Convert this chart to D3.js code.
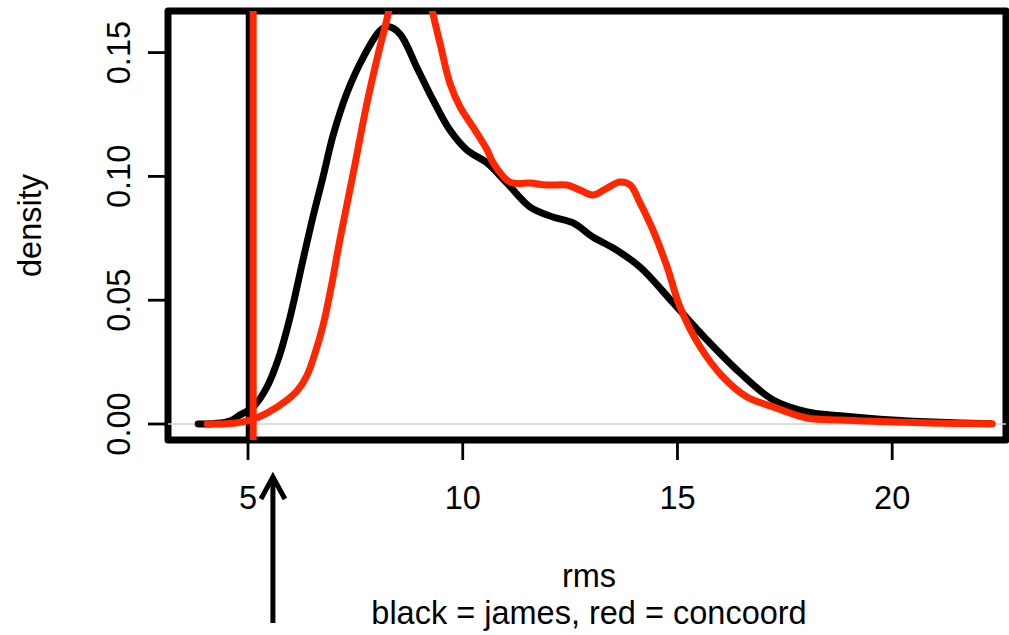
<!DOCTYPE html>
<html><head><meta charset="utf-8">
<script src="https://cdn.jsdelivr.net/npm/d3@7"></script>
<style>body{margin:0;background:#fff}svg{display:block}text{font-family:"Liberation Sans",Arial,Helvetica,sans-serif;fill:#000}</style>
</head><body><div id="chart"></div>
<script>
// James density (rms, density)
const jamesX = [3.84,4.23,4.58,4.81,5.12,5.44,5.72,5.98,6.28,6.51,6.75,6.98,7.31,7.68,8.07,8.26,8.54,8.94,9.31,9.70,10.10,10.57,11.03,11.57,12.10,12.57,13.03,13.50,14.13,14.90,15.69,16.46,17.23,18.02,18.79,19.72,20.65,21.58,22.28];
const jamesY = [0,0.0002,0.0012,0.0036,0.0069,0.0149,0.027,0.0432,0.0662,0.0835,0.1000,0.1165,0.134,0.148,0.1588,0.1605,0.1575,0.1437,0.1308,0.1187,0.1106,0.1054,0.0973,0.0876,0.0836,0.0812,0.0755,0.0711,0.0634,0.0489,0.0339,0.0206,0.0097,0.0049,0.0033,0.0019,0.001,0.0004,0.0001];
// Concoord density
const concoordX = [4.05,4.58,5.05,5.44,5.91,6.15,6.37,6.55,6.75,6.95,7.14,7.45,7.77,8.07,8.19,8.40,8.60,8.80,9.05,9.285,9.47,9.70,9.94,10.24,10.57,10.71,11.10,11.57,11.96,12.43,12.73,13.03,13.36,13.66,13.90,14.13,14.43,14.76,15.06,15.53,16.06,16.62,17.23,18.02,18.79,19.72,20.88,22.33];
const concoordY = [0,0.0002,0.0016,0.0044,0.0097,0.0135,0.0195,0.028,0.040,0.0565,0.0745,0.1013,0.1296,0.1522,0.1603,0.176,0.188,0.193,0.186,0.1672,0.1538,0.1377,0.128,0.1199,0.1106,0.1054,0.0977,0.0973,0.0965,0.0965,0.0945,0.0925,0.0953,0.0977,0.0965,0.0892,0.0783,0.0634,0.0472,0.0311,0.019,0.0109,0.0069,0.0024,0.0016,0.001,0.0004,0.0001];
// Reference lines and arrow
const vLines = [{v:5.0, color:"#000", w:4.5},{v:5.12, color:"#ff2600", w:7}];
const arrowAt = 5.58;
const xTicks = [5,10,15,20];
const yTicks = [0,0.05,0.10,0.15];
const yTickLabels = ["0.00","0.05","0.10","0.15"];
const xLabel = "rms";
const subLabel = "black = james, red = concoord";
const yLabel = "density";

const W=1009,H=635;
const L=168,R=1006,T=11,B=440;
const x=d3.scaleLinear().domain([3.137,22.65]).range([L,R]);
const y=d3.scaleLinear().domain([-0.00646,0.1668]).range([B,T]);
const svg=d3.select("#chart").append("svg").attr("width",W).attr("height",H);
svg.append("defs").append("clipPath").attr("id","clip").append("rect").attr("x",L).attr("y",T).attr("width",R-L).attr("height",B-T);

const fs=32.5;
// y axis ticks
svg.append("g").selectAll("line").data(yTicks).join("line")
  .attr("x1",148).attr("x2",L).attr("y1",d=>y(d)).attr("y2",d=>y(d))
  .attr("stroke","#000").attr("stroke-width",2.8);
svg.append("g").selectAll("text").data(yTicks).join("text")
  .attr("transform",d=>`translate(130,${y(d)}) rotate(-90)`)
  .attr("text-anchor","middle").attr("font-size",fs).text((d,i)=>yTickLabels[i]);
// x axis ticks
svg.append("g").selectAll("line").data(xTicks).join("line")
  .attr("x1",d=>x(d)).attr("x2",d=>x(d)).attr("y1",B).attr("y2",460)
  .attr("stroke","#000").attr("stroke-width",2.8);
svg.append("g").selectAll("text").data(xTicks).join("text")
  .attr("x",d=>x(d)).attr("y",509).attr("text-anchor","middle").attr("font-size",fs).text(d=>d);

// labels
svg.append("text").attr("x",(L+R)/2+2).attr("y",587).attr("text-anchor","middle").attr("font-size",fs).text(xLabel);
svg.append("text").attr("x",(L+R)/2+2).attr("y",624).attr("text-anchor","middle").attr("font-size",fs).text(subLabel);
svg.append("text").attr("transform",`translate(41,${(T+B)/2}) rotate(-90)`).attr("text-anchor","middle").attr("font-size",fs).text(yLabel);

// box
svg.append("rect").attr("x",L).attr("y",T).attr("width",R-L).attr("height",B-T)
  .attr("fill","none").attr("stroke","#000").attr("stroke-width",7).attr("stroke-linejoin","round");

const g=svg.append("g").attr("clip-path","url(#clip)");
// grey zero line
g.append("line").attr("x1",L).attr("x2",R).attr("y1",y(0)).attr("y2",y(0)).attr("stroke","#d3d3d3").attr("stroke-width",1.5);

const line=d3.line().x(d=>x(d[0])).y(d=>y(d[1])).curve(d3.curveCatmullRom.alpha(0.5));
const jd=jamesX.map((v,i)=>[v,jamesY[i]]);
const cd=concoordX.map((v,i)=>[v,concoordY[i]]);
g.append("path").attr("d",line(jd)).attr("fill","none").attr("stroke","#000").attr("stroke-width",7).attr("stroke-linecap","round").attr("stroke-linejoin","round");
g.append("line").attr("x1",x(vLines[0].v)).attr("x2",x(vLines[0].v)).attr("y1",T).attr("y2",B).attr("stroke",vLines[0].color).attr("stroke-width",vLines[0].w);
g.append("path").attr("d",line(cd)).attr("fill","none").attr("stroke","#ff2600").attr("stroke-width",7).attr("stroke-linecap","round").attr("stroke-linejoin","round");
g.append("line").attr("x1",x(vLines[1].v)).attr("x2",x(vLines[1].v)).attr("y1",T).attr("y2",B).attr("stroke",vLines[1].color).attr("stroke-width",vLines[1].w);

// arrow
const ax=x(arrowAt);
const ag=svg.append("g").attr("stroke","#000").attr("stroke-width",5).attr("fill","none").attr("stroke-linecap","butt");
ag.append("line").attr("x1",ax).attr("x2",ax).attr("y1",623).attr("y2",477);
ag.append("path").attr("d",`M${ax-12},499 L${ax},477 L${ax+12},499`).attr("stroke-linejoin","miter");
</script></body></html>
